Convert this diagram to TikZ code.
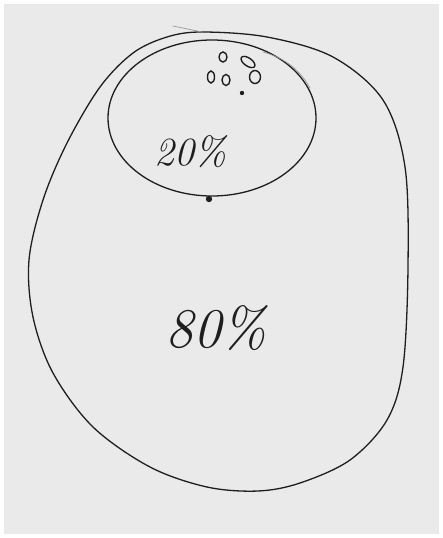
\documentclass[tikz,border=0pt]{standalone}
\usepackage{tikz}
\usetikzlibrary{calc}
\usepackage{xcolor}
\definecolor{paper}{HTML}{EAEAEA}
\definecolor{pen}{HTML}{1E1E1E}
\tikzset{penline/.style={draw=pen,line width=1.3pt,line cap=round},faintline/.style={draw=pen!45,line width=.7pt,line cap=round},blob/.style={draw=pen,line width=1.4pt},share/.style={font=\itshape,text=pen,inner sep=0pt}}

\begin{document}
\begin{tikzpicture}[x=1pt,y=-1pt]
\useasboundingbox (0,0) rectangle (443,538);
\fill[white] (0,0) rectangle (443,538);
\fill[paper] (4,4) rectangle (439,534);
% outer region (80%)
\draw[penline] plot[smooth cycle,tension=.55] coordinates {(202,32) (267,37) (333,57) (383,100) (405,167) (408,267) (403,367) (387,420) (350,460) (300,483) (258,491) (207,487) (150,467) (93,427) (53,373) (33,317) (29,260) (43,200) (67,143) (100,87) (133,53) (167,37)};
\draw[faintline] (173,26)--(202,32);
% inner region (20%)
\draw[penline] (212,118) ellipse [x radius=104,y radius=78];
\draw[faintline] (263,52) .. controls (285,58) and (300,70) .. (310,88);
\fill[pen] (209,199) circle (3.2);
% small circles
\draw[blob] (223,57) ellipse [x radius=4,y radius=5];
\draw[blob,rotate around={-35:(248,62)}] (248,62) ellipse [x radius=8,y radius=4];
\draw[blob] (211,77) ellipse [x radius=3.5,y radius=6];
\draw[blob] (226,80) ellipse [x radius=4,y radius=5.5];
\draw[blob] (255,77) ellipse [x radius=5.5,y radius=6.5];
\fill[pen] (242,93) circle (2.2);
% labels
\node[share,font=\itshape\fontsize{40}{40}\selectfont] (small) at (190,152) {20\%};
\node[share,font=\itshape\fontsize{56}{56}\selectfont] (large) at (216,328) {80\%};
\end{tikzpicture}
\end{document}
